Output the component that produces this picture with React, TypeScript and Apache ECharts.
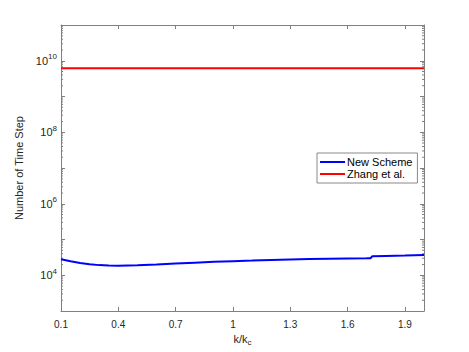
import React, { useEffect, useRef } from "react";
import * as echarts from "echarts";

const kValues = [0.1, 0.15, 0.2, 0.25, 0.3, 0.35, 0.4, 0.5, 0.6, 0.7, 0.8, 0.9, 1.0, 1.1, 1.2, 1.3, 1.4, 1.5, 1.6, 1.7, 1.72, 1.73, 1.8, 1.9, 2.0];
const newScheme = [28000, 24500, 22000, 20300, 19200, 18600, 18400, 18900, 19900, 21200, 22500, 23700, 24800, 25700, 26700, 27600, 28300, 28900, 29400, 29800, 30000, 34200, 34800, 35700, 36800];
const zhangK = [0.1, 2.0];
const zhangValues = [6.2e9, 6.2e9];
const xTicks = [0.1, 0.4, 0.7, 1.0, 1.3, 1.6, 1.9];
const seriesNames = ["New Scheme", "Zhang et al."];

const X_MIN = 0.1;
const X_MAX = 2.0;
const Y_MIN = 1e3;
const Y_MAX = 1e11;

// minor tick values 2..9 x 10^n
const minorTickValues: number[] = [];
for (let e = 3; e < 11; e++) {
  for (let m = 2; m <= 9; m++) minorTickValues.push(m * Math.pow(10, e));
}

export default function App() {
  const ref = useRef<HTMLDivElement>(null);
  useEffect(() => {
    if (!ref.current) return;
    const chart = echarts.init(ref.current, null, { renderer: "svg" });
    const axisColor = "#808080";
    const textColor = "#262626";
    const font = "Liberation Sans, Arial, sans-serif";
    chart.setOption({
      animation: false,
      backgroundColor: "#ffffff",
      textStyle: { fontFamily: font },
      grid: { left: 61, right: 45, top: 25, bottom: 41, containLabel: false },
      legend: {
        data: seriesNames,
        orient: "vertical",
        left: 317,
        top: 153,
        padding: [3, 5, 3, 3],
        itemGap: 0,
        itemWidth: 25,
        itemHeight: 2,
        icon: "rect",
        borderColor: "#888888",
        borderWidth: 1,
        backgroundColor: "#ffffff",
        textStyle: {
          fontSize: 11,
          lineHeight: 12,
          fontWeight: "normal",
          color: "#000000",
          fontFamily: font,
          padding: [0, 0, 0, -3],
        },
      },
      xAxis: [
        {
          type: "value",
          min: X_MIN,
          max: X_MAX,
          name: "k/k{sub|c}",
          nameLocation: "middle",
          nameGap: 20,
          nameTextStyle: {
            fontSize: 11,
            color: textColor,
            rich: { sub: { fontSize: 8, color: textColor, padding: [6, 0, 0, 0] } },
          },
          axisLine: { show: true, lineStyle: { color: axisColor, width: 1 } },
          axisTick: { show: true, inside: true, length: 4, customValues: xTicks, lineStyle: { color: axisColor } },
          axisLabel: {
            show: true,
            customValues: xTicks,
            margin: 8,
            fontSize: 10,
            color: textColor,
            formatter: (v: number) => String(+v.toFixed(1)),
          },
          splitLine: { show: false },
        },
        {
          type: "value",
          position: "top",
          min: X_MIN,
          max: X_MAX,
          axisLine: { show: true, lineStyle: { color: axisColor, width: 1 } },
          axisTick: { show: true, inside: true, length: 4, customValues: xTicks, lineStyle: { color: axisColor } },
          axisLabel: { show: false },
          splitLine: { show: false },
        },
      ],
      yAxis: [
        {
          type: "log",
          logBase: 10,
          min: Y_MIN,
          max: Y_MAX,
          interval: 1,
          name: "Number of Time Step",
          nameLocation: "middle",
          nameGap: 32,
          nameTextStyle: { fontSize: 11, color: textColor },
          axisLine: { show: true, lineStyle: { color: axisColor, width: 1 } },
          axisTick: { show: true, inside: true, length: 4, lineStyle: { color: axisColor } },
          axisLabel: {
            margin: 4,
            fontSize: 11,
            color: textColor,
            formatter: (v: number) => {
              const e = Math.round(Math.log10(v));
              return e % 2 === 0 && e > 3 && e < 11 ? `10{sup|${e}}` : "";
            },
            rich: { sup: { fontSize: 8, color: textColor, padding: [0, 0, 8, 0] } },
          },
          splitLine: { show: false },
        },
        {
          type: "log",
          logBase: 10,
          position: "right",
          min: Y_MIN,
          max: Y_MAX,
          interval: 1,
          axisLine: { show: true, lineStyle: { color: axisColor, width: 1 } },
          axisTick: { show: true, inside: true, length: 4, lineStyle: { color: axisColor } },
          axisLabel: { show: false },
          splitLine: { show: false },
        },
      ],
      series: [
        {
          name: "minorTicks",
          type: "custom",
          xAxisIndex: 0,
          yAxisIndex: 0,
          silent: true,
          data: minorTickValues.map((v) => [X_MIN, v]),
          renderItem: (params: any, api: any) => {
            const v = api.value(1);
            const l = api.coord([X_MIN, v]);
            const r = api.coord([X_MAX, v]);
            const style = { stroke: axisColor, lineWidth: 1 };
            return {
              type: "group",
              children: [
                { type: "line", shape: { x1: l[0], y1: l[1], x2: l[0] + 2, y2: l[1] }, style },
                { type: "line", shape: { x1: r[0], y1: r[1], x2: r[0] - 2, y2: r[1] }, style },
              ],
            };
          },
        },
        {
          name: seriesNames[0],
          type: "line",
          xAxisIndex: 0,
          yAxisIndex: 0,
          data: kValues.map((k, i) => [k, newScheme[i]]),
          showSymbol: false,
          symbol: "none",
          lineStyle: { color: "#0000ff", width: 2 },
          itemStyle: { color: "#0000ff" },
        },
        {
          name: seriesNames[1],
          type: "line",
          xAxisIndex: 0,
          yAxisIndex: 0,
          data: zhangK.map((k, i) => [k, zhangValues[i]]),
          showSymbol: false,
          symbol: "none",
          lineStyle: { color: "#ff0000", width: 2 },
          itemStyle: { color: "#ff0000" },
        },
      ],
    });
    return () => chart.dispose();
  }, []);
  return (
    <div
      ref={ref}
      style={{ position: "fixed", left: 0, top: 0, width: 469, height: 352 }}
    />
  );
}
